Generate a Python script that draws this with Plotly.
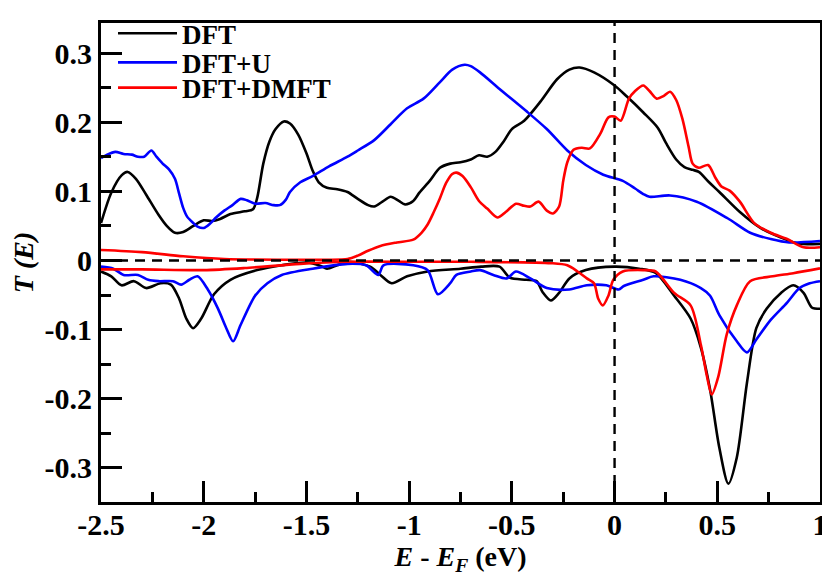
import plotly.graph_objects as go

# ---------------- data ----------------
dft_up_x = [-2.5, -2.45, -2.40, -2.37, -2.33, -2.28, -2.22, -2.18, -2.14, -2.10, -2.05, -2.00, -1.96, -1.92,
            -1.87, -1.80, -1.76, -1.74, -1.71, -1.68, -1.65, -1.61, -1.58, -1.54, -1.50, -1.47, -1.44, -1.40,
            -1.35, -1.30, -1.25, -1.20, -1.17, -1.13, -1.09, -1.05, -1.02, -0.98, -0.95, -0.90, -0.85, -0.80,
            -0.75, -0.70, -0.66, -0.62, -0.58, -0.54, -0.50, -0.44, -0.36, -0.28, -0.22, -0.17, -0.10, 0.00,
            0.06, 0.14, 0.21, 0.25, 0.30, 0.34, 0.38, 0.41, 0.46, 0.51, 0.61, 0.71, 0.81, 0.90, 1.00]
dft_up_y = [0.054, 0.098, 0.123, 0.128, 0.118, 0.095, 0.066, 0.050, 0.040, 0.041, 0.050, 0.058, 0.057, 0.060,
            0.067, 0.071, 0.074, 0.090, 0.140, 0.172, 0.190, 0.201, 0.198, 0.182, 0.155, 0.130, 0.113, 0.105,
            0.103, 0.099, 0.089, 0.080, 0.078, 0.085, 0.092, 0.086, 0.081, 0.086, 0.098, 0.115, 0.134, 0.140,
            0.142, 0.146, 0.152, 0.150, 0.157, 0.172, 0.190, 0.202, 0.230, 0.262, 0.276, 0.279, 0.272, 0.253,
            0.237, 0.214, 0.192, 0.170, 0.146, 0.135, 0.131, 0.128, 0.113, 0.099, 0.070, 0.047, 0.033, 0.024, 0.024]

dft_dn_x = [-2.50, -2.45, -2.40, -2.34, -2.28, -2.21, -2.16, -2.12, -2.085, -2.052, -2.012, -1.95, -1.87, -1.74,
            -1.62, -1.50, -1.43, -1.40, -1.35, -1.29, -1.19, -1.14, -1.085, -1.01, -0.91, -0.75, -0.65, -0.56,
            -0.51, -0.43, -0.38, -0.35, -0.31, -0.27, -0.22, -0.14, 0.00, 0.12, 0.20, 0.29, 0.37, 0.42, 0.465,
            0.51, 0.554, 0.595, 0.644, 0.69, 0.74, 0.81, 0.87, 0.92, 0.96, 1.00]
dft_dn_y = [-0.016, -0.023, -0.036, -0.030, -0.040, -0.033, -0.035, -0.055, -0.084, -0.098, -0.084, -0.049, -0.028,
            -0.014, -0.007, -0.003, -0.008, -0.012, -0.007, -0.002, -0.009, -0.021, -0.033, -0.023, -0.016, -0.012,
            -0.009, -0.009, -0.025, -0.028, -0.030, -0.046, -0.058, -0.047, -0.026, -0.014, -0.009, -0.012, -0.018,
            -0.051, -0.084, -0.126, -0.187, -0.271, -0.323, -0.285, -0.178, -0.098, -0.070, -0.047, -0.036, -0.047,
            -0.068, -0.070]

dftu_up_x = [-2.50, -2.47, -2.43, -2.39, -2.35, -2.32, -2.29, -2.255, -2.23, -2.20, -2.17, -2.14, -2.12, -2.10,
             -2.08, -2.05, -2.03, -2.00, -1.97, -1.94, -1.90, -1.86, -1.82, -1.79, -1.75, -1.70, -1.66, -1.63,
             -1.60, -1.58, -1.53, -1.47, -1.39, -1.30, -1.25, -1.17, -1.09, -1.01, -0.93, -0.85, -0.79, -0.73,
             -0.70, -0.655, -0.56, -0.43, -0.33, -0.23, -0.14, -0.055, 0.04, 0.10, 0.14, 0.17, 0.27, 0.40, 0.55,
             0.66, 0.76, 0.85, 1.00]
dftu_up_y = [0.148, 0.153, 0.157, 0.154, 0.153, 0.150, 0.150, 0.159, 0.150, 0.140, 0.132, 0.118, 0.097, 0.076,
             0.063, 0.054, 0.049, 0.047, 0.053, 0.062, 0.072, 0.080, 0.089, 0.087, 0.082, 0.083, 0.080, 0.080,
             0.088, 0.099, 0.113, 0.122, 0.136, 0.150, 0.159, 0.174, 0.197, 0.220, 0.234, 0.258, 0.276, 0.283,
             0.281, 0.272, 0.248, 0.216, 0.190, 0.159, 0.138, 0.124, 0.115, 0.104, 0.096, 0.092, 0.094, 0.085,
             0.061, 0.040, 0.031, 0.026, 0.028]

dftu_dn_x = [-2.50, -2.44, -2.39, -2.32, -2.27, -2.22, -2.15, -2.11, -2.07, -2.03, -1.98, -1.93, -1.89, -1.857,
             -1.82, -1.75, -1.69, -1.62, -1.47, -1.30, -1.21, -1.15, -1.125, -0.98, -0.91, -0.86, -0.80, -0.77,
             -0.70, -0.655, -0.59, -0.525, -0.48, -0.41, -0.33, -0.22, -0.135, -0.04, 0.02, 0.045, 0.14, 0.19,
             0.32, 0.42, 0.465, 0.51, 0.595, 0.644, 0.69, 0.76, 0.84, 0.90, 0.95, 1.00]
dftu_dn_y = [-0.009, -0.012, -0.021, -0.021, -0.028, -0.030, -0.030, -0.035, -0.028, -0.023, -0.042, -0.070,
             -0.098, -0.117, -0.093, -0.051, -0.033, -0.021, -0.012, -0.005, -0.007, -0.021, -0.007, -0.007,
             -0.014, -0.049, -0.033, -0.021, -0.016, -0.014, -0.021, -0.026, -0.016, -0.026, -0.040, -0.042,
             -0.036, -0.036, -0.042, -0.037, -0.028, -0.023, -0.028, -0.040, -0.051, -0.079, -0.117, -0.133,
             -0.1145, -0.086, -0.061, -0.040, -0.033, -0.030]

dmft_up_x = [-2.50, -2.30, -2.10, -1.90, -1.60, -1.40, -1.30, -1.25, -1.20, -1.14, -1.06, -0.98, -0.94, -0.91,
             -0.88, -0.85, -0.82, -0.79, -0.77, -0.74, -0.70, -0.66, -0.62, -0.57, -0.53, -0.48, -0.44, -0.41,
             -0.37, -0.33, -0.30, -0.27, -0.25, -0.23, -0.20, -0.16, -0.12, -0.07, -0.03, 0.00, 0.03, 0.07,
             0.10, 0.14, 0.17, 0.205, 0.24, 0.27, 0.30, 0.33, 0.36, 0.38, 0.41, 0.455, 0.49, 0.52, 0.56, 0.61,
             0.68, 0.76, 0.84, 0.92, 1.00]
dmft_up_y = [0.015, 0.012, 0.006, 0.002, 0.001, 0.001, 0.002, 0.007, 0.014, 0.021, 0.026, 0.030, 0.040, 0.052,
             0.070, 0.090, 0.112, 0.125, 0.127, 0.122, 0.106, 0.086, 0.075, 0.062, 0.070, 0.082, 0.079, 0.078,
             0.085, 0.072, 0.068, 0.078, 0.115, 0.142, 0.160, 0.163, 0.162, 0.183, 0.207, 0.208, 0.202, 0.234,
             0.245, 0.253, 0.245, 0.234, 0.238, 0.244, 0.232, 0.205, 0.165, 0.140, 0.134, 0.138, 0.120, 0.107,
             0.101, 0.085, 0.054, 0.040, 0.031, 0.019, 0.019]

dmft_dn_x = [-2.50, -2.30, -2.00, -1.80, -1.53, -1.30, -1.00, -0.70, -0.31, -0.23, -0.18, -0.135, -0.10, -0.08,
             -0.057, -0.03, -0.006, 0.04, 0.14, 0.20, 0.29, 0.37, 0.42, 0.45, 0.473, 0.505, 0.546, 0.595, 0.66,
             0.77, 0.87, 1.00]
dmft_dn_y = [-0.013, -0.013, -0.014, -0.011, -0.005, -0.002, -0.002, -0.002, -0.004, -0.007, -0.016, -0.026,
             -0.033, -0.055, -0.065, -0.051, -0.028, -0.016, -0.014, -0.016, -0.047, -0.065, -0.122, -0.168,
             -0.194, -0.168, -0.107, -0.065, -0.030, -0.023, -0.0185, -0.0115]

series_names = ["DFT", "DFT+U", "DFT+DMFT"]
series_colors = ["#000000", "#0000ff", "#ff0000"]

x_tickvals = [-2.5, -2, -1.5, -1, -0.5, 0, 0.5, 1]
x_ticktext = ["-2.5", "-2", "-1.5", "-1", "-0.5", "0", "0.5", "1"]
y_tickvals = [-0.3, -0.2, -0.1, 0, 0.1, 0.2, 0.3]
y_ticktext = ["-0.3", "-0.2", "-0.1", "0", "0.1", "0.2", "0.3"]

# ---------------- figure ----------------
FONT = "Liberation Serif, Times New Roman, Times, serif"
fig = go.Figure()

legend_ids = ["legend", "legend2", "legend3"]
pairs = [
    (dft_up_x, dft_up_y, dft_dn_x, dft_dn_y),
    (dftu_up_x, dftu_up_y, dftu_dn_x, dftu_dn_y),
    (dmft_up_x, dmft_up_y, dmft_dn_x, dmft_dn_y),
]
for name, color, lid, (ux, uy, dx, dy) in zip(series_names, series_colors, legend_ids, pairs):
    fig.add_trace(go.Scatter(x=ux, y=uy, mode="lines", name=name, legendgroup=name, legend=lid,
                             line=dict(color=color, width=2.6, shape="spline", smoothing=0.8)))
    fig.add_trace(go.Scatter(x=dx, y=dy, mode="lines", name=name, legendgroup=name, showlegend=False,
                             line=dict(color=color, width=2.6, shape="spline", smoothing=0.8)))

fig.add_hline(y=0, line=dict(color="black", width=2.4, dash="10px,7px"))
fig.add_vline(x=0, line=dict(color="black", width=2.4, dash="10px,7px"))

leg_common = dict(xanchor="left", yanchor="middle", bgcolor="rgba(0,0,0,0)",
                  font=dict(family=FONT, size=27, color="black", weight="bold"), itemwidth=59)
fig.update_layout(
    width=822, height=576,
    margin=dict(l=93, r=10, t=1, b=82),
    paper_bgcolor="white", plot_bgcolor="white",
    font=dict(family=FONT, color="black", size=28),
    showlegend=True,
    legend=dict(x=0.0167, y=0.9777, **leg_common),
    legend2=dict(x=0.0167, y=0.9168, **leg_common),
    legend3=dict(x=0.0167, y=0.8641, **leg_common),
)

fig.update_xaxes(
    range=[-2.5, 1], showgrid=False, zeroline=False, automargin=False,
    showline=True, linecolor="black", linewidth=3, mirror=True,
    ticks="inside", ticklen=21, tickwidth=2.5, tickcolor="black",
    tickmode="array", tickvals=x_tickvals, ticktext=x_ticktext, ticklabeloverflow="allow",
    ticklabelstandoff=-6,
    tickfont=dict(family=FONT, size=30, color="black", weight="bold"),
    minor=dict(ticks="inside", ticklen=10, tickwidth=2.5, tickcolor="black", tickmode="linear", tick0=0, dtick=0.25),
    title=dict(text="<b><i>E</i> - <i>E<sub>F</sub></i> (eV)</b>", standoff=0,
               font=dict(family=FONT, size=28, color="black")),
)
fig.update_yaxes(
    range=[-0.3494, 0.3434], showgrid=False, zeroline=False, automargin=False,
    showline=True, linecolor="black", linewidth=3, mirror=True,
    ticks="inside", ticklen=21, tickwidth=2.5, tickcolor="black",
    tickmode="array", tickvals=y_tickvals, ticktext=y_ticktext, ticklabeloverflow="allow",
    tickfont=dict(family=FONT, size=30, color="black", weight="bold"),
    minor=dict(ticks="inside", ticklen=10, tickwidth=2.5, tickcolor="black", tickmode="linear", tick0=0, dtick=0.05),
    title=dict(text="<b><i>T (E)</i></b>", standoff=16,
               font=dict(family=FONT, size=28, color="black")),
)

fig.write_html("out.html")
